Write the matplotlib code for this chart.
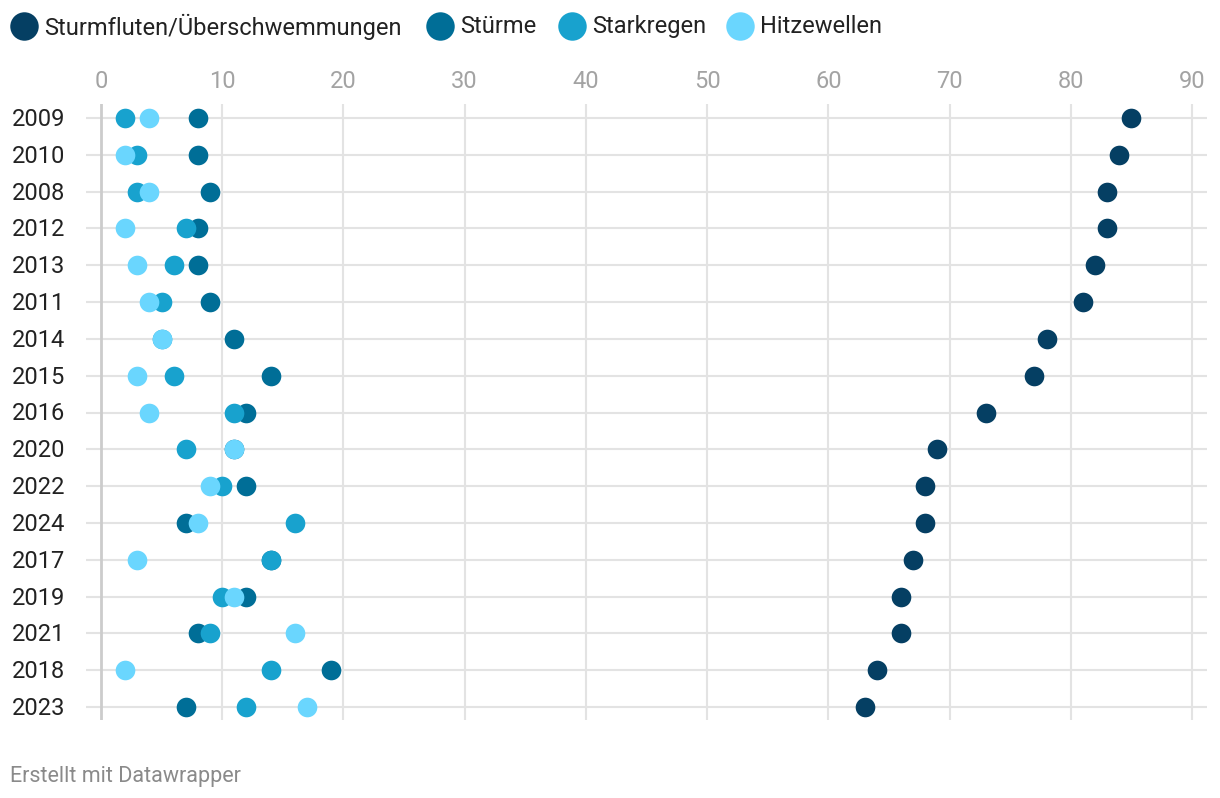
import numpy as np
import matplotlib.pyplot as plt

plt.rcParams['font.family'] = ['Roboto', 'DejaVu Sans']

years = ['2009', '2010', '2008', '2012', '2013', '2011', '2014', '2015', '2016',
         '2020', '2022', '2024', '2017', '2019', '2021', '2018', '2023']

sturmfluten = [85, 84, 83, 83, 82, 81, 78, 77, 73, 69, 68, 68, 67, 66, 66, 64, 63]
stuerme = [8, 8, 9, 8, 8, 9, 11, 14, 12, 11, 12, 7, 14, 12, 8, 19, 7]
starkregen = [2, 3, 3, 7, 6, 5, 5, 6, 11, 7, 10, 16, 14, 10, 9, 14, 12]
hitzewellen = [4, 2, 4, 2, 3, 4, 5, 3, 4, 11, 9, 8, 3, 11, 16, 2, 17]

series = ['Sturmfluten/Überschwemmungen', 'Stürme', 'Starkregen', 'Hitzewellen']
colors = ['#053f63', '#006e97', '#18a2ce', '#6ad6fe']
values = [sturmfluten, stuerme, starkregen, hitzewellen]

W, H = 1220, 798
fig = plt.figure(figsize=(W / 100, H / 100), dpi=100)

# plot area in pixels
left, right, top, bottom = 86, 1207, 104, 720
ax = fig.add_axes([left / W, 1 - bottom / H, (right - left) / W, (bottom - top) / H])

px_per_unit = (1192 - 101) / 90
ax.set_xlim((left - 101) / px_per_unit, 90 + (right - 1192) / px_per_unit)
row_h = (707 - 118) / 16
ax.set_ylim(16 + (bottom - 707) / row_h, -(118 - top) / row_h)

y = np.arange(len(years))
for vals, c in zip(values, colors):
    ax.scatter(vals, y, s=200, color=c, zorder=3, linewidths=0)

for yy in y:
    ax.axhline(yy, color='#e3e3e3', lw=1.5, zorder=1)
for xx in range(10, 100, 10):
    ax.axvline(xx, color='#e3e3e3', lw=1.5, zorder=1)
ax.axvline(0, color='#cccccc', lw=2, zorder=2)

for s in ax.spines.values():
    s.set_visible(False)
ax.tick_params(length=0)
ax.xaxis.tick_top()
ax.set_xticks(range(0, 100, 10))
ax.set_xticklabels([str(v) for v in range(0, 100, 10)], color='#a3a3a3', fontsize=17)
ax.tick_params(axis='x', pad=8)
ax.set_yticks(y)
ax.set_yticklabels([])
for yy, lab in zip(y, years):
    fig.text(12 / W, 1 - (117 + yy * row_h) / H, lab, ha='left', va='center_baseline',
             fontsize=17, color='#222222')

# legend
lax = fig.add_axes([0, 0, 1, 1])
lax.set_xlim(0, W)
lax.set_ylim(H, 0)
lax.axis('off')
leg_x = [24, 440, 572, 740]
for lx, name, c in zip(leg_x, series, colors):
    lax.scatter([lx], [26], s=420, color=c, linewidths=0)
    lax.text(lx + 20, 24, name, ha='left', va='center_baseline', fontsize=17, color='#222222')

lax.text(10, 774, 'Erstellt mit Datawrapper', ha='left', va='center_baseline',
         fontsize=15.5, color='#8a8a8a')

fig.savefig('out.png', dpi=100)
